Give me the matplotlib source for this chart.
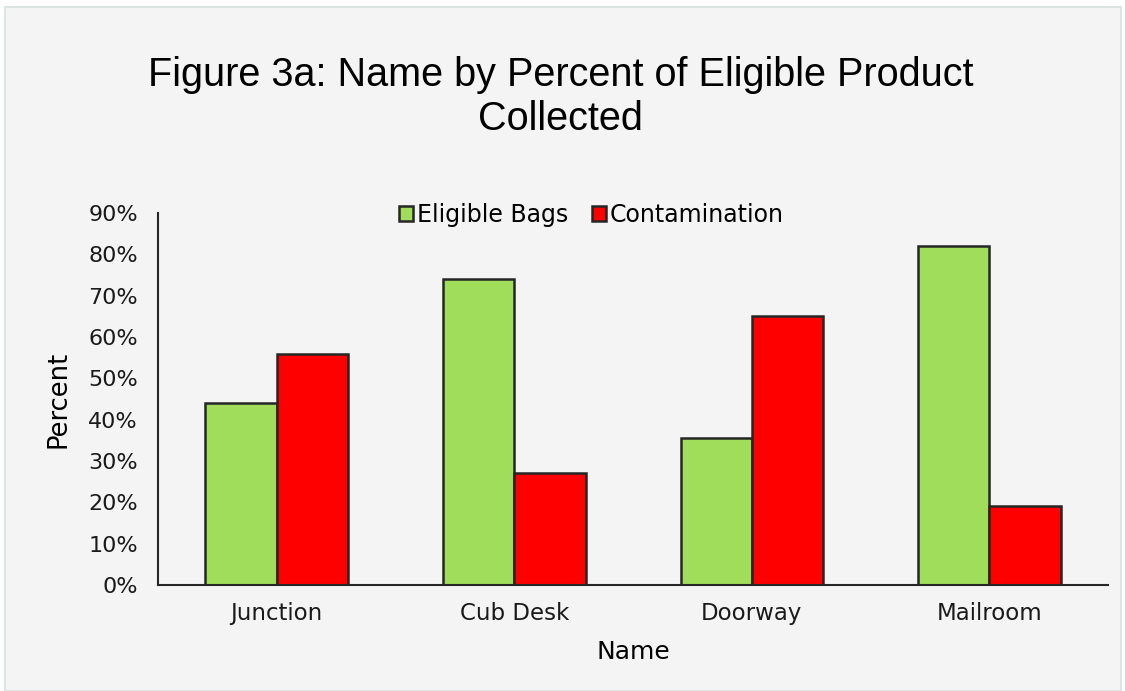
import numpy as np
import matplotlib.pyplot as plt
from matplotlib.patches import Rectangle

plt.rcParams['font.family'] = ['Liberation Sans', 'DejaVu Sans']

# Data
names = ["Junction", "Cub Desk", "Doorway", "Mailroom"]
eligible = [0.44, 0.74, 0.355, 0.82]
contamination = [0.56, 0.27, 0.65, 0.19]
yticks = [0, 0.1, 0.2, 0.3, 0.4, 0.5, 0.6, 0.7, 0.8, 0.9]
ytick_labels = ["0%", "10%", "20%", "30%", "40%", "50%", "60%", "70%", "80%", "90%"]

wide = ['DejaVu Sans']  # the reference labels are set wide

fig = plt.figure(figsize=(11.25, 6.91), dpi=100)
fig.patch.set_facecolor("white")
# light panel behind the chart
fig.patches.append(Rectangle((0.004, 0.0), 0.992, 0.99, transform=fig.transFigure,
                             facecolor="#f4f4f4", edgecolor="#dce4e4", linewidth=1.5,
                             zorder=-10))

ax = fig.add_axes([0.1404, 0.1534, 0.8446, 0.5384])
ax.set_facecolor("#f4f4f4")

x = np.arange(len(names))
w = 0.3
ax.bar(x - w / 2, eligible, w, color="#9fdd5a", edgecolor="#262626", linewidth=1.8,
       label="Eligible Bags")
ax.bar(x + w / 2, contamination, w, color="#ff0000", edgecolor="#262626", linewidth=1.8,
       label="Contamination")

ax.set_xlim(-0.5, len(names) - 0.5)
ax.set_ylim(0, 0.9)
ax.set_yticks(yticks)
ax.set_yticklabels(ytick_labels, fontsize=16, family=wide, color="#1a1a1a")
ax.set_xticks(x)
ax.set_xticklabels(names, fontsize=16.5, family=wide, color="#1a1a1a")
ax.tick_params(length=0)
ax.tick_params(axis="y", pad=14.5)
ax.tick_params(axis="x", pad=12)

for s in ["top", "right"]:
    ax.spines[s].set_visible(False)
for s in ["left", "bottom"]:
    ax.spines[s].set_color("#262626")
    ax.spines[s].set_linewidth(1.5)

ax.set_ylabel("Percent", fontsize=18.5, family=wide, labelpad=12)
ax.set_xlabel("Name", fontsize=18, family=wide, labelpad=11)

fig.text(0.498, 0.86, "Figure 3a: Name by Percent of Eligible Product\nCollected",
         ha="center", va="center", fontsize=28.5, linespacing=1.2)

ax.legend(loc="upper center", bbox_to_anchor=(0.456, 1.085), ncol=2, frameon=False,
          prop={'family': wide, 'size': 17}, handlelength=0.6, handleheight=0.6,
          handletextpad=0.15, columnspacing=1.0)

fig.savefig("out.png", dpi=100, facecolor=fig.get_facecolor())
